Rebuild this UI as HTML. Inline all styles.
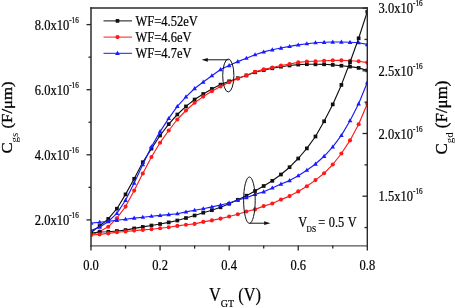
<!DOCTYPE html>
<html><head><meta charset="utf-8"><style>
html,body{margin:0;padding:0;background:#fff;width:455px;height:308px;overflow:hidden;}
svg{display:block;font-family:"Liberation Serif",serif;filter:blur(0.3px);}
text{stroke:#000;stroke-width:0.22px;}
</style></head><body><svg width="455" height="308" viewBox="0 0 455 308" font-family="Liberation Serif, serif" fill="#000"><defs><clipPath id="pc"><rect x="91" y="8" width="276" height="237.5"/></clipPath></defs><g clip-path="url(#pc)"><polyline points="91.00,232.50 99.63,226.00 108.27,218.90 116.90,208.70 125.54,194.40 134.17,178.80 142.80,162.20 151.44,148.60 160.07,135.50 168.71,124.10 177.34,114.50 185.97,106.40 194.61,99.50 203.24,94.00 211.88,88.90 220.51,84.60 229.14,81.30 237.78,78.20 246.41,75.50 255.05,72.30 263.68,70.20 272.31,68.30 280.95,66.70 289.58,65.50 298.22,64.60 306.85,64.20 315.48,64.30 324.12,64.30 332.75,64.90 341.39,65.70 350.02,66.60 358.65,67.90 367.29,70.40" fill="none" stroke="#111" stroke-width="1.15" stroke-linejoin="round"/><rect x="89.15" y="230.65" width="3.7" height="3.7" fill="#111"/><rect x="97.78" y="224.15" width="3.7" height="3.7" fill="#111"/><rect x="106.42" y="217.05" width="3.7" height="3.7" fill="#111"/><rect x="115.05" y="206.85" width="3.7" height="3.7" fill="#111"/><rect x="123.69" y="192.55" width="3.7" height="3.7" fill="#111"/><rect x="132.32" y="176.95" width="3.7" height="3.7" fill="#111"/><rect x="140.95" y="160.35" width="3.7" height="3.7" fill="#111"/><rect x="149.59" y="146.75" width="3.7" height="3.7" fill="#111"/><rect x="158.22" y="133.65" width="3.7" height="3.7" fill="#111"/><rect x="166.86" y="122.25" width="3.7" height="3.7" fill="#111"/><rect x="175.49" y="112.65" width="3.7" height="3.7" fill="#111"/><rect x="184.12" y="104.55" width="3.7" height="3.7" fill="#111"/><rect x="192.76" y="97.65" width="3.7" height="3.7" fill="#111"/><rect x="201.39" y="92.15" width="3.7" height="3.7" fill="#111"/><rect x="210.03" y="87.05" width="3.7" height="3.7" fill="#111"/><rect x="218.66" y="82.75" width="3.7" height="3.7" fill="#111"/><rect x="227.29" y="79.45" width="3.7" height="3.7" fill="#111"/><rect x="235.93" y="76.35" width="3.7" height="3.7" fill="#111"/><rect x="244.56" y="73.65" width="3.7" height="3.7" fill="#111"/><rect x="253.20" y="70.45" width="3.7" height="3.7" fill="#111"/><rect x="261.83" y="68.35" width="3.7" height="3.7" fill="#111"/><rect x="270.46" y="66.45" width="3.7" height="3.7" fill="#111"/><rect x="279.10" y="64.85" width="3.7" height="3.7" fill="#111"/><rect x="287.73" y="63.65" width="3.7" height="3.7" fill="#111"/><rect x="296.37" y="62.75" width="3.7" height="3.7" fill="#111"/><rect x="305.00" y="62.35" width="3.7" height="3.7" fill="#111"/><rect x="313.63" y="62.45" width="3.7" height="3.7" fill="#111"/><rect x="322.27" y="62.45" width="3.7" height="3.7" fill="#111"/><rect x="330.90" y="63.05" width="3.7" height="3.7" fill="#111"/><rect x="339.54" y="63.85" width="3.7" height="3.7" fill="#111"/><rect x="348.17" y="64.75" width="3.7" height="3.7" fill="#111"/><rect x="356.80" y="66.05" width="3.7" height="3.7" fill="#111"/><rect x="365.44" y="68.55" width="3.7" height="3.7" fill="#111"/><polyline points="91.00,234.90 99.63,231.60 108.27,226.80 116.90,218.20 125.54,206.60 134.17,190.60 142.80,173.50 151.44,157.00 160.07,142.70 168.71,130.50 177.34,119.50 185.97,110.50 194.61,102.70 203.24,96.60 211.88,91.20 220.51,86.50 229.14,82.20 237.78,78.60 246.41,75.20 255.05,71.80 263.68,69.40 272.31,67.50 280.95,65.50 289.58,64.00 298.22,62.40 306.85,61.50 315.48,61.20 324.12,60.80 332.75,60.40 341.39,60.40 350.02,60.70 358.65,61.20 367.29,62.60" fill="none" stroke="#ff1a1a" stroke-width="1.15" stroke-linejoin="round"/><circle cx="91.00" cy="234.90" r="2.05" fill="#ff1a1a"/><circle cx="99.63" cy="231.60" r="2.05" fill="#ff1a1a"/><circle cx="108.27" cy="226.80" r="2.05" fill="#ff1a1a"/><circle cx="116.90" cy="218.20" r="2.05" fill="#ff1a1a"/><circle cx="125.54" cy="206.60" r="2.05" fill="#ff1a1a"/><circle cx="134.17" cy="190.60" r="2.05" fill="#ff1a1a"/><circle cx="142.80" cy="173.50" r="2.05" fill="#ff1a1a"/><circle cx="151.44" cy="157.00" r="2.05" fill="#ff1a1a"/><circle cx="160.07" cy="142.70" r="2.05" fill="#ff1a1a"/><circle cx="168.71" cy="130.50" r="2.05" fill="#ff1a1a"/><circle cx="177.34" cy="119.50" r="2.05" fill="#ff1a1a"/><circle cx="185.97" cy="110.50" r="2.05" fill="#ff1a1a"/><circle cx="194.61" cy="102.70" r="2.05" fill="#ff1a1a"/><circle cx="203.24" cy="96.60" r="2.05" fill="#ff1a1a"/><circle cx="211.88" cy="91.20" r="2.05" fill="#ff1a1a"/><circle cx="220.51" cy="86.50" r="2.05" fill="#ff1a1a"/><circle cx="229.14" cy="82.20" r="2.05" fill="#ff1a1a"/><circle cx="237.78" cy="78.60" r="2.05" fill="#ff1a1a"/><circle cx="246.41" cy="75.20" r="2.05" fill="#ff1a1a"/><circle cx="255.05" cy="71.80" r="2.05" fill="#ff1a1a"/><circle cx="263.68" cy="69.40" r="2.05" fill="#ff1a1a"/><circle cx="272.31" cy="67.50" r="2.05" fill="#ff1a1a"/><circle cx="280.95" cy="65.50" r="2.05" fill="#ff1a1a"/><circle cx="289.58" cy="64.00" r="2.05" fill="#ff1a1a"/><circle cx="298.22" cy="62.40" r="2.05" fill="#ff1a1a"/><circle cx="306.85" cy="61.50" r="2.05" fill="#ff1a1a"/><circle cx="315.48" cy="61.20" r="2.05" fill="#ff1a1a"/><circle cx="324.12" cy="60.80" r="2.05" fill="#ff1a1a"/><circle cx="332.75" cy="60.40" r="2.05" fill="#ff1a1a"/><circle cx="341.39" cy="60.40" r="2.05" fill="#ff1a1a"/><circle cx="350.02" cy="60.70" r="2.05" fill="#ff1a1a"/><circle cx="358.65" cy="61.20" r="2.05" fill="#ff1a1a"/><circle cx="367.29" cy="62.60" r="2.05" fill="#ff1a1a"/><polyline points="91.00,230.40 99.63,227.20 108.27,221.50 116.90,213.40 125.54,200.30 134.17,183.00 142.80,164.60 151.44,146.80 160.07,131.60 168.71,118.40 177.34,106.40 185.97,96.80 194.61,88.50 203.24,82.00 211.88,75.70 220.51,69.50 229.14,65.50 237.78,61.60 246.41,58.20 255.05,54.70 263.68,51.90 272.31,49.80 280.95,48.00 289.58,46.40 298.22,44.90 306.85,43.70 315.48,42.70 324.12,42.30 332.75,42.00 341.39,42.00 350.02,42.30 358.65,42.70 367.29,44.50" fill="none" stroke="#1a1aff" stroke-width="1.15" stroke-linejoin="round"/><path d="M91.00,227.92L93.30,232.06L88.70,232.06Z" fill="#1a1aff"/><path d="M99.63,224.72L101.93,228.86L97.33,228.86Z" fill="#1a1aff"/><path d="M108.27,219.02L110.57,223.16L105.97,223.16Z" fill="#1a1aff"/><path d="M116.90,210.92L119.20,215.06L114.60,215.06Z" fill="#1a1aff"/><path d="M125.54,197.82L127.84,201.96L123.24,201.96Z" fill="#1a1aff"/><path d="M134.17,180.52L136.47,184.66L131.87,184.66Z" fill="#1a1aff"/><path d="M142.80,162.12L145.10,166.26L140.50,166.26Z" fill="#1a1aff"/><path d="M151.44,144.32L153.74,148.46L149.14,148.46Z" fill="#1a1aff"/><path d="M160.07,129.12L162.37,133.26L157.77,133.26Z" fill="#1a1aff"/><path d="M168.71,115.92L171.01,120.06L166.41,120.06Z" fill="#1a1aff"/><path d="M177.34,103.92L179.64,108.06L175.04,108.06Z" fill="#1a1aff"/><path d="M185.97,94.32L188.27,98.46L183.67,98.46Z" fill="#1a1aff"/><path d="M194.61,86.02L196.91,90.16L192.31,90.16Z" fill="#1a1aff"/><path d="M203.24,79.52L205.54,83.66L200.94,83.66Z" fill="#1a1aff"/><path d="M211.88,73.22L214.18,77.36L209.58,77.36Z" fill="#1a1aff"/><path d="M220.51,67.02L222.81,71.16L218.21,71.16Z" fill="#1a1aff"/><path d="M229.14,63.02L231.44,67.16L226.84,67.16Z" fill="#1a1aff"/><path d="M237.78,59.12L240.08,63.26L235.48,63.26Z" fill="#1a1aff"/><path d="M246.41,55.72L248.71,59.86L244.11,59.86Z" fill="#1a1aff"/><path d="M255.05,52.22L257.35,56.36L252.75,56.36Z" fill="#1a1aff"/><path d="M263.68,49.42L265.98,53.56L261.38,53.56Z" fill="#1a1aff"/><path d="M272.31,47.32L274.61,51.46L270.01,51.46Z" fill="#1a1aff"/><path d="M280.95,45.52L283.25,49.66L278.65,49.66Z" fill="#1a1aff"/><path d="M289.58,43.92L291.88,48.06L287.28,48.06Z" fill="#1a1aff"/><path d="M298.22,42.42L300.52,46.56L295.92,46.56Z" fill="#1a1aff"/><path d="M306.85,41.22L309.15,45.36L304.55,45.36Z" fill="#1a1aff"/><path d="M315.48,40.22L317.78,44.36L313.18,44.36Z" fill="#1a1aff"/><path d="M324.12,39.82L326.42,43.96L321.82,43.96Z" fill="#1a1aff"/><path d="M332.75,39.52L335.05,43.66L330.45,43.66Z" fill="#1a1aff"/><path d="M341.39,39.52L343.69,43.66L339.09,43.66Z" fill="#1a1aff"/><path d="M350.02,39.82L352.32,43.96L347.72,43.96Z" fill="#1a1aff"/><path d="M358.65,40.22L360.95,44.36L356.35,44.36Z" fill="#1a1aff"/><path d="M367.29,42.02L369.59,46.16L364.99,46.16Z" fill="#1a1aff"/><polyline points="91.00,233.00 99.63,232.00 108.27,231.80 116.90,231.00 125.54,230.10 134.17,228.40 142.80,226.90 151.44,225.50 160.07,224.00 168.71,222.40 177.34,220.50 185.97,218.00 194.61,215.50 203.24,212.70 211.88,210.20 220.51,207.30 229.14,203.80 237.78,199.80 246.41,195.70 255.05,191.00 263.68,186.00 272.31,180.80 280.95,174.50 289.58,167.20 298.22,158.50 306.85,148.40 315.48,136.50 324.12,121.30 332.75,104.40 341.39,84.90 350.02,62.20 358.65,38.30 367.29,11.80" fill="none" stroke="#111" stroke-width="1.15" stroke-linejoin="round"/><rect x="89.15" y="231.15" width="3.7" height="3.7" fill="#111"/><rect x="97.78" y="230.15" width="3.7" height="3.7" fill="#111"/><rect x="106.42" y="229.95" width="3.7" height="3.7" fill="#111"/><rect x="115.05" y="229.15" width="3.7" height="3.7" fill="#111"/><rect x="123.69" y="228.25" width="3.7" height="3.7" fill="#111"/><rect x="132.32" y="226.55" width="3.7" height="3.7" fill="#111"/><rect x="140.95" y="225.05" width="3.7" height="3.7" fill="#111"/><rect x="149.59" y="223.65" width="3.7" height="3.7" fill="#111"/><rect x="158.22" y="222.15" width="3.7" height="3.7" fill="#111"/><rect x="166.86" y="220.55" width="3.7" height="3.7" fill="#111"/><rect x="175.49" y="218.65" width="3.7" height="3.7" fill="#111"/><rect x="184.12" y="216.15" width="3.7" height="3.7" fill="#111"/><rect x="192.76" y="213.65" width="3.7" height="3.7" fill="#111"/><rect x="201.39" y="210.85" width="3.7" height="3.7" fill="#111"/><rect x="210.03" y="208.35" width="3.7" height="3.7" fill="#111"/><rect x="218.66" y="205.45" width="3.7" height="3.7" fill="#111"/><rect x="227.29" y="201.95" width="3.7" height="3.7" fill="#111"/><rect x="235.93" y="197.95" width="3.7" height="3.7" fill="#111"/><rect x="244.56" y="193.85" width="3.7" height="3.7" fill="#111"/><rect x="253.20" y="189.15" width="3.7" height="3.7" fill="#111"/><rect x="261.83" y="184.15" width="3.7" height="3.7" fill="#111"/><rect x="270.46" y="178.95" width="3.7" height="3.7" fill="#111"/><rect x="279.10" y="172.65" width="3.7" height="3.7" fill="#111"/><rect x="287.73" y="165.35" width="3.7" height="3.7" fill="#111"/><rect x="296.37" y="156.65" width="3.7" height="3.7" fill="#111"/><rect x="305.00" y="146.55" width="3.7" height="3.7" fill="#111"/><rect x="313.63" y="134.65" width="3.7" height="3.7" fill="#111"/><rect x="322.27" y="119.45" width="3.7" height="3.7" fill="#111"/><rect x="330.90" y="102.55" width="3.7" height="3.7" fill="#111"/><rect x="339.54" y="83.05" width="3.7" height="3.7" fill="#111"/><rect x="348.17" y="60.35" width="3.7" height="3.7" fill="#111"/><rect x="356.80" y="36.45" width="3.7" height="3.7" fill="#111"/><rect x="365.44" y="9.95" width="3.7" height="3.7" fill="#111"/><polyline points="91.00,235.00 99.63,234.40 108.27,233.40 116.90,232.20 125.54,231.50 134.17,230.60 142.80,229.90 151.44,229.30 160.07,228.30 168.71,227.30 177.34,225.90 185.97,224.80 194.61,223.90 203.24,221.90 211.88,220.40 220.51,218.60 229.14,216.50 237.78,214.20 246.41,211.50 255.05,209.40 263.68,206.10 272.31,203.50 280.95,199.60 289.58,196.10 298.22,191.40 306.85,186.30 315.48,180.10 324.12,173.30 332.75,164.50 341.39,153.50 350.02,140.40 358.65,124.20 367.29,103.80" fill="none" stroke="#ff1a1a" stroke-width="1.15" stroke-linejoin="round"/><circle cx="91.00" cy="235.00" r="2.05" fill="#ff1a1a"/><circle cx="99.63" cy="234.40" r="2.05" fill="#ff1a1a"/><circle cx="108.27" cy="233.40" r="2.05" fill="#ff1a1a"/><circle cx="116.90" cy="232.20" r="2.05" fill="#ff1a1a"/><circle cx="125.54" cy="231.50" r="2.05" fill="#ff1a1a"/><circle cx="134.17" cy="230.60" r="2.05" fill="#ff1a1a"/><circle cx="142.80" cy="229.90" r="2.05" fill="#ff1a1a"/><circle cx="151.44" cy="229.30" r="2.05" fill="#ff1a1a"/><circle cx="160.07" cy="228.30" r="2.05" fill="#ff1a1a"/><circle cx="168.71" cy="227.30" r="2.05" fill="#ff1a1a"/><circle cx="177.34" cy="225.90" r="2.05" fill="#ff1a1a"/><circle cx="185.97" cy="224.80" r="2.05" fill="#ff1a1a"/><circle cx="194.61" cy="223.90" r="2.05" fill="#ff1a1a"/><circle cx="203.24" cy="221.90" r="2.05" fill="#ff1a1a"/><circle cx="211.88" cy="220.40" r="2.05" fill="#ff1a1a"/><circle cx="220.51" cy="218.60" r="2.05" fill="#ff1a1a"/><circle cx="229.14" cy="216.50" r="2.05" fill="#ff1a1a"/><circle cx="237.78" cy="214.20" r="2.05" fill="#ff1a1a"/><circle cx="246.41" cy="211.50" r="2.05" fill="#ff1a1a"/><circle cx="255.05" cy="209.40" r="2.05" fill="#ff1a1a"/><circle cx="263.68" cy="206.10" r="2.05" fill="#ff1a1a"/><circle cx="272.31" cy="203.50" r="2.05" fill="#ff1a1a"/><circle cx="280.95" cy="199.60" r="2.05" fill="#ff1a1a"/><circle cx="289.58" cy="196.10" r="2.05" fill="#ff1a1a"/><circle cx="298.22" cy="191.40" r="2.05" fill="#ff1a1a"/><circle cx="306.85" cy="186.30" r="2.05" fill="#ff1a1a"/><circle cx="315.48" cy="180.10" r="2.05" fill="#ff1a1a"/><circle cx="324.12" cy="173.30" r="2.05" fill="#ff1a1a"/><circle cx="332.75" cy="164.50" r="2.05" fill="#ff1a1a"/><circle cx="341.39" cy="153.50" r="2.05" fill="#ff1a1a"/><circle cx="350.02" cy="140.40" r="2.05" fill="#ff1a1a"/><circle cx="358.65" cy="124.20" r="2.05" fill="#ff1a1a"/><circle cx="367.29" cy="103.80" r="2.05" fill="#ff1a1a"/><polyline points="91.00,223.20 99.63,222.20 108.27,221.40 116.90,220.30 125.54,219.20 134.17,218.10 142.80,217.20 151.44,216.20 160.07,215.40 168.71,214.60 177.34,213.70 185.97,211.90 194.61,210.20 203.24,208.70 211.88,206.90 220.51,205.00 229.14,203.00 237.78,200.00 246.41,197.70 255.05,194.40 263.68,191.80 272.31,187.90 280.95,184.00 289.58,180.60 298.22,175.70 306.85,170.20 315.48,164.00 324.12,156.30 332.75,146.90 341.39,135.40 350.02,120.70 358.65,103.80 367.29,82.50" fill="none" stroke="#1a1aff" stroke-width="1.15" stroke-linejoin="round"/><path d="M91.00,220.72L93.30,224.86L88.70,224.86Z" fill="#1a1aff"/><path d="M99.63,219.72L101.93,223.86L97.33,223.86Z" fill="#1a1aff"/><path d="M108.27,218.92L110.57,223.06L105.97,223.06Z" fill="#1a1aff"/><path d="M116.90,217.82L119.20,221.96L114.60,221.96Z" fill="#1a1aff"/><path d="M125.54,216.72L127.84,220.86L123.24,220.86Z" fill="#1a1aff"/><path d="M134.17,215.62L136.47,219.76L131.87,219.76Z" fill="#1a1aff"/><path d="M142.80,214.72L145.10,218.86L140.50,218.86Z" fill="#1a1aff"/><path d="M151.44,213.72L153.74,217.86L149.14,217.86Z" fill="#1a1aff"/><path d="M160.07,212.92L162.37,217.06L157.77,217.06Z" fill="#1a1aff"/><path d="M168.71,212.12L171.01,216.26L166.41,216.26Z" fill="#1a1aff"/><path d="M177.34,211.22L179.64,215.36L175.04,215.36Z" fill="#1a1aff"/><path d="M185.97,209.42L188.27,213.56L183.67,213.56Z" fill="#1a1aff"/><path d="M194.61,207.72L196.91,211.86L192.31,211.86Z" fill="#1a1aff"/><path d="M203.24,206.22L205.54,210.36L200.94,210.36Z" fill="#1a1aff"/><path d="M211.88,204.42L214.18,208.56L209.58,208.56Z" fill="#1a1aff"/><path d="M220.51,202.52L222.81,206.66L218.21,206.66Z" fill="#1a1aff"/><path d="M229.14,200.52L231.44,204.66L226.84,204.66Z" fill="#1a1aff"/><path d="M237.78,197.52L240.08,201.66L235.48,201.66Z" fill="#1a1aff"/><path d="M246.41,195.22L248.71,199.36L244.11,199.36Z" fill="#1a1aff"/><path d="M255.05,191.92L257.35,196.06L252.75,196.06Z" fill="#1a1aff"/><path d="M263.68,189.32L265.98,193.46L261.38,193.46Z" fill="#1a1aff"/><path d="M272.31,185.42L274.61,189.56L270.01,189.56Z" fill="#1a1aff"/><path d="M280.95,181.52L283.25,185.66L278.65,185.66Z" fill="#1a1aff"/><path d="M289.58,178.12L291.88,182.26L287.28,182.26Z" fill="#1a1aff"/><path d="M298.22,173.22L300.52,177.36L295.92,177.36Z" fill="#1a1aff"/><path d="M306.85,167.72L309.15,171.86L304.55,171.86Z" fill="#1a1aff"/><path d="M315.48,161.52L317.78,165.66L313.18,165.66Z" fill="#1a1aff"/><path d="M324.12,153.82L326.42,157.96L321.82,157.96Z" fill="#1a1aff"/><path d="M332.75,144.42L335.05,148.56L330.45,148.56Z" fill="#1a1aff"/><path d="M341.39,132.92L343.69,137.06L339.09,137.06Z" fill="#1a1aff"/><path d="M350.02,118.22L352.32,122.36L347.72,122.36Z" fill="#1a1aff"/><path d="M358.65,101.32L360.95,105.46L356.35,105.46Z" fill="#1a1aff"/><path d="M367.29,80.02L369.59,84.16L364.99,84.16Z" fill="#1a1aff"/></g><line x1="91.0" y1="7.2" x2="91.0" y2="246.5" stroke="#3a3a3a" stroke-width="1.6"/><line x1="367.3" y1="7.2" x2="367.3" y2="246.5" stroke="#2a2a2a" stroke-width="1.4"/><line x1="90.2" y1="7.9" x2="368" y2="7.9" stroke="#2a2a2a" stroke-width="1.5"/><line x1="90.2" y1="245.9" x2="368" y2="245.9" stroke="#555" stroke-width="1.3"/><line x1="86.5" y1="219.90" x2="91.0" y2="219.90" stroke="#262626" stroke-width="1.3"/><line x1="86.5" y1="154.80" x2="91.0" y2="154.80" stroke="#262626" stroke-width="1.3"/><line x1="86.5" y1="89.70" x2="91.0" y2="89.70" stroke="#262626" stroke-width="1.3"/><line x1="86.5" y1="24.60" x2="91.0" y2="24.60" stroke="#262626" stroke-width="1.3"/><line x1="88.5" y1="187.35" x2="91.0" y2="187.35" stroke="#262626" stroke-width="1.3"/><line x1="88.5" y1="122.25" x2="91.0" y2="122.25" stroke="#262626" stroke-width="1.3"/><line x1="88.5" y1="57.15" x2="91.0" y2="57.15" stroke="#262626" stroke-width="1.3"/><line x1="362.5" y1="196.20" x2="367.0" y2="196.20" stroke="#262626" stroke-width="1.3"/><line x1="362.5" y1="133.50" x2="367.0" y2="133.50" stroke="#262626" stroke-width="1.3"/><line x1="362.5" y1="70.80" x2="367.0" y2="70.80" stroke="#262626" stroke-width="1.3"/><line x1="362.5" y1="8.10" x2="367.0" y2="8.10" stroke="#262626" stroke-width="1.3"/><line x1="364.5" y1="227.55" x2="367.0" y2="227.55" stroke="#262626" stroke-width="1.3"/><line x1="364.5" y1="164.85" x2="367.0" y2="164.85" stroke="#262626" stroke-width="1.3"/><line x1="364.5" y1="102.15" x2="367.0" y2="102.15" stroke="#262626" stroke-width="1.3"/><line x1="364.5" y1="39.45" x2="367.0" y2="39.45" stroke="#262626" stroke-width="1.3"/><line x1="91.00" y1="245.5" x2="91.00" y2="250.6" stroke="#262626" stroke-width="1.3"/><line x1="160.08" y1="245.5" x2="160.08" y2="250.6" stroke="#262626" stroke-width="1.3"/><line x1="229.16" y1="245.5" x2="229.16" y2="250.6" stroke="#262626" stroke-width="1.3"/><line x1="298.24" y1="245.5" x2="298.24" y2="250.6" stroke="#262626" stroke-width="1.3"/><line x1="367.32" y1="245.5" x2="367.32" y2="250.6" stroke="#262626" stroke-width="1.3"/><line x1="125.54" y1="245.5" x2="125.54" y2="248.6" stroke="#262626" stroke-width="1.3"/><line x1="194.62" y1="245.5" x2="194.62" y2="248.6" stroke="#262626" stroke-width="1.3"/><line x1="263.70" y1="245.5" x2="263.70" y2="248.6" stroke="#262626" stroke-width="1.3"/><line x1="332.78" y1="245.5" x2="332.78" y2="248.6" stroke="#262626" stroke-width="1.3"/><line x1="103.5" y1="20.9" x2="132" y2="20.9" stroke="#111" stroke-width="1"/><rect x="115.6" y="19.0" width="3.8" height="3.8" rx="0.9" fill="#111"/><line x1="103.5" y1="37.099999999999994" x2="132" y2="37.099999999999994" stroke="#ff1a1a" stroke-width="1"/><circle cx="117.5" cy="37.099999999999994" r="2.1" fill="#ff1a1a"/><line x1="103.5" y1="53.3" x2="132" y2="53.3" stroke="#1a1aff" stroke-width="1"/><path d="M117.5,50.8L119.9,54.9L115.1,54.9Z" fill="#1a1aff"/><text transform="translate(135.5,25.7) scale(0.895,1)" font-size="14">WF=4.52eV</text><text transform="translate(135.5,41.89999999999999) scale(0.895,1)" font-size="14">WF=4.6eV</text><text transform="translate(135.5,58.099999999999994) scale(0.895,1)" font-size="14">WF=4.7eV</text><ellipse cx="228.3" cy="75.5" rx="5.6" ry="16.5" fill="none" stroke="#111" stroke-width="1"/><line x1="207" y1="59.8" x2="228.5" y2="59.8" stroke="#111" stroke-width="1"/><path d="M201.6,59.8L207.8,57.9L207.8,61.7Z" fill="#111"/><ellipse cx="249.4" cy="200.2" rx="5.8" ry="23.2" fill="none" stroke="#111" stroke-width="1"/><line x1="249.6" y1="223.2" x2="265" y2="223.2" stroke="#111" stroke-width="1"/><path d="M270.3,223.2L264.2,221.3L264.2,225.1Z" fill="#111"/><text transform="translate(298.3,227) scale(0.895,1)" font-size="13.8">V</text><text transform="translate(306.6,232.3) scale(0.895,1)" font-size="8.3">DS</text><text transform="translate(318.2,227) scale(0.895,1)" font-size="13.8">=</text><text transform="translate(328.8,227) scale(0.895,1)" font-size="13.8">0.5</text><text transform="translate(347.8,227) scale(0.895,1)" font-size="13.8">V</text><text transform="translate(34.8,29.6) scale(0.895,1)" text-anchor="start" font-size="14">8.0x10<tspan font-size="8" dy="-7">-16</tspan></text><text transform="translate(34.8,94.69999999999999) scale(0.895,1)" text-anchor="start" font-size="14">6.0x10<tspan font-size="8" dy="-7">-16</tspan></text><text transform="translate(34.8,159.79999999999998) scale(0.895,1)" text-anchor="start" font-size="14">4.0x10<tspan font-size="8" dy="-7">-16</tspan></text><text transform="translate(34.8,224.89999999999998) scale(0.895,1)" text-anchor="start" font-size="14">2.0x10<tspan font-size="8" dy="-7">-16</tspan></text><text transform="translate(378.6,13.1) scale(0.895,1)" text-anchor="start" font-size="14">3.0x10<tspan font-size="8" dy="-7">-16</tspan></text><text transform="translate(378.6,75.8) scale(0.895,1)" text-anchor="start" font-size="14">2.5x10<tspan font-size="8" dy="-7">-16</tspan></text><text transform="translate(378.6,138.5) scale(0.895,1)" text-anchor="start" font-size="14">2.0x10<tspan font-size="8" dy="-7">-16</tspan></text><text transform="translate(378.6,201.20000000000002) scale(0.895,1)" text-anchor="start" font-size="14">1.5x10<tspan font-size="8" dy="-7">-16</tspan></text><text transform="translate(91.00,270) scale(0.895,1)" text-anchor="middle" font-size="14">0.0</text><text transform="translate(160.08,270) scale(0.895,1)" text-anchor="middle" font-size="14">0.2</text><text transform="translate(229.16,270) scale(0.895,1)" text-anchor="middle" font-size="14">0.4</text><text transform="translate(298.24,270) scale(0.895,1)" text-anchor="middle" font-size="14">0.6</text><text transform="translate(367.32,270) scale(0.895,1)" text-anchor="middle" font-size="14">0.8</text><text transform="translate(12.3,153.6) scale(0.9,1) rotate(-90)" font-size="16.75" style="stroke-width:0.35px">C<tspan font-size="11" dy="6.3" style="stroke-width:0">gs</tspan><tspan dy="-6.3"> (F/μm)</tspan></text><text transform="translate(446.6,154.6) scale(0.98,1) rotate(-90)" font-size="16.9" style="stroke-width:0.35px">C<tspan font-size="11" dy="6.3" style="stroke-width:0">gd</tspan><tspan dy="-6.3"> (F/μm)</tspan></text><text transform="translate(209,300.5) scale(0.91,1)" font-size="18">V<tspan font-size="11" dy="6">GT</tspan><tspan dy="-6"> (V)</tspan></text></svg></body></html>
